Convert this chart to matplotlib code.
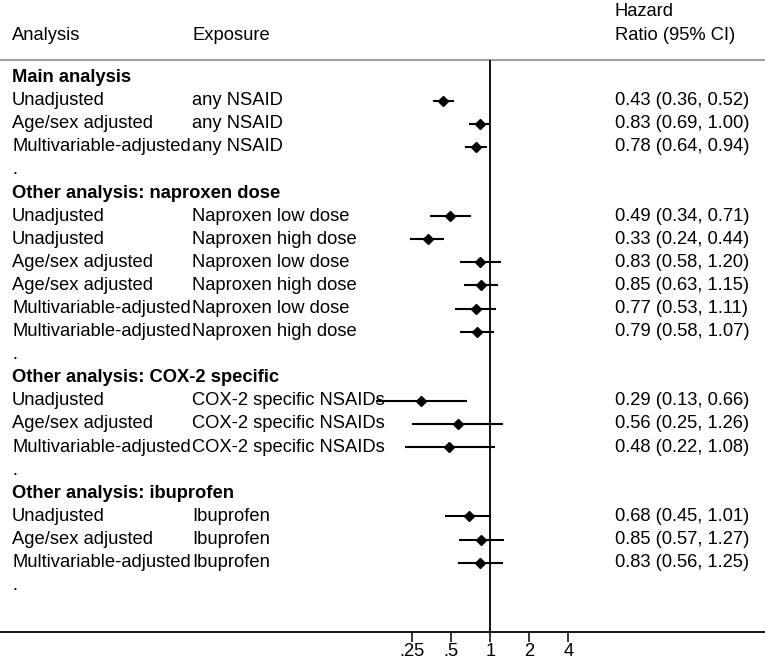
import numpy as np
import matplotlib
matplotlib.use("Agg")
import matplotlib.pyplot as plt
from matplotlib.transforms import blended_transform_factory


groups = [
    "Main analysis",
    "Other analysis: naproxen dose",
    "Other analysis: COX-2 specific",
    "Other analysis: ibuprofen",
]
group_of = [0, 0, 0, 1, 1, 1, 1, 1, 1, 2, 2, 2, 3, 3, 3]
analysis = [
    "Unadjusted", "Age/sex adjusted", "Multivariable-adjusted",
    "Unadjusted", "Unadjusted", "Age/sex adjusted", "Age/sex adjusted",
    "Multivariable-adjusted", "Multivariable-adjusted",
    "Unadjusted", "Age/sex adjusted", "Multivariable-adjusted",
    "Unadjusted", "Age/sex adjusted", "Multivariable-adjusted",
]
exposure = [
    "any NSAID", "any NSAID", "any NSAID",
    "Naproxen low dose", "Naproxen high dose", "Naproxen low dose",
    "Naproxen high dose", "Naproxen low dose", "Naproxen high dose",
    "COX-2 specific NSAIDs", "COX-2 specific NSAIDs", "COX-2 specific NSAIDs",
    "Ibuprofen", "Ibuprofen", "Ibuprofen",
]
hr = [0.43, 0.83, 0.78, 0.49, 0.33, 0.83, 0.85, 0.77, 0.79, 0.29, 0.56, 0.48, 0.68, 0.85, 0.83]
lo = [0.36, 0.69, 0.64, 0.34, 0.24, 0.58, 0.63, 0.53, 0.58, 0.13, 0.25, 0.22, 0.45, 0.57, 0.56]
hi = [0.52, 1.00, 0.94, 0.71, 0.44, 1.20, 1.15, 1.11, 1.07, 0.66, 1.26, 1.08, 1.01, 1.27, 1.25]

tick_vals = [0.25, 0.5, 1, 2, 4]
tick_labels = [".25", ".5", "1", "2", "4"]

W, H = 765, 661
X_ONE = 490.3      # pixel of HR = 1
PX_DOUBLE = 39.0   # pixels per doubling
Y0, DY = 77.5, 23.1  # pixel of first row, row step

plt.rcParams["font.family"] = ["Liberation Sans", "DejaVu Sans"]
FS = 13.2

fig = plt.figure(figsize=(W / 100, H / 100), dpi=100)
ax = fig.add_axes([0, 0, 1, 1])
ax.set_xscale("log", base=2)
ax.set_xlim(2 ** (-X_ONE / PX_DOUBLE), 2 ** ((W - X_ONE) / PX_DOUBLE))
ax.set_ylim((H - Y0) / DY, -Y0 / DY)


def row_of_px(py):
    return (py - Y0) / DY


# lay out rows: header, entries, "." spacer
rows = []
r = 0
entry_rows = [0] * len(hr)
for g, name in enumerate(groups):
    rows.append((r, name, "header"))
    r += 1
    for i in range(len(hr)):
        if group_of[i] == g:
            entry_rows[i] = r
            r += 1
    rows.append((r, ".", "dot"))
    r += 1

tr = blended_transform_factory(ax.transAxes, ax.transData)
x_an, x_ex, x_hr = 12 / W, 192 / W, 615 / W

for rr, txt, kind in rows:
    if kind == "header":
        ax.text(x_an, rr, txt, transform=tr, ha="left", va="center",
                fontsize=FS, fontweight="bold")
    else:
        ax.text(x_an, rr, txt, transform=tr, ha="left", va="center", fontsize=FS)

for i in range(len(hr)):
    yy = entry_rows[i]
    ax.text(x_an, yy, analysis[i], transform=tr, ha="left", va="center", fontsize=FS)
    ax.text(x_ex, yy, exposure[i], transform=tr, ha="left", va="center", fontsize=FS)
    ax.text(x_hr, yy, "%.2f (%.2f, %.2f)" % (hr[i], lo[i], hi[i]), transform=tr,
            ha="left", va="center", fontsize=FS)

ax.hlines(entry_rows, lo, hi, color="black", linewidth=1.5, zorder=3)
ax.plot(hr, entry_rows, linestyle="none", marker="D", markersize=5,
        color="black", zorder=4)

# column headers
ax.text(x_an, row_of_px(35), "Analysis", transform=tr, ha="left", va="center", fontsize=FS)
ax.text(x_ex, row_of_px(35), "Exposure", transform=tr, ha="left", va="center", fontsize=FS)
ax.text(x_hr, row_of_px(12), "Hazard", transform=tr, ha="left", va="center", fontsize=FS)
ax.text(x_hr, row_of_px(35), "Ratio (95% CI)", transform=tr, ha="left", va="center", fontsize=FS)

top_line = row_of_px(60)
axis_line = row_of_px(632)
ax.axhline(top_line, color="#a0a0a0", linewidth=1.5)
ax.vlines(1, top_line, axis_line, color="black", linewidth=1.3, zorder=2)

for side in ["top", "left", "right"]:
    ax.spines[side].set_visible(False)
ax.spines["bottom"].set_position(("data", axis_line))
ax.spines["bottom"].set_linewidth(1.3)
ax.set_xticks(tick_vals)
ax.set_xticklabels(tick_labels)
ax.xaxis.set_minor_locator(matplotlib.ticker.NullLocator())
ax.tick_params(axis="x", direction="out", length=7.0, width=1.1, pad=1, labelsize=FS)
ax.set_yticks([])
ax.patch.set_alpha(0)

fig.savefig("out.png", dpi=100)
